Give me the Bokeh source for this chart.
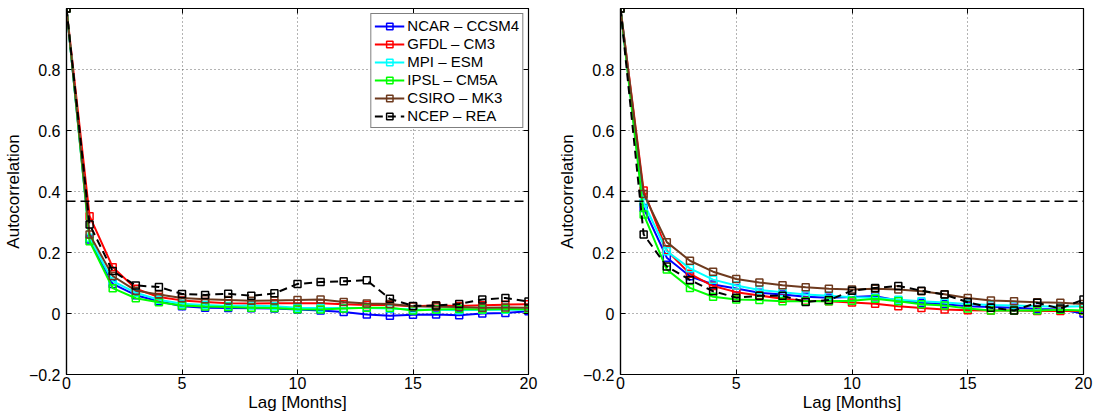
import numpy as np
from bokeh.plotting import figure
from bokeh.layouts import row
from bokeh.models import (Range1d, FixedTicker, LinearAxis, Span, Legend, LegendItem)
from bokeh.embed import file_html
from bokeh.resources import INLINE

lags = list(range(21))
series_names = ["NCAR \u2013 CCSM4", "GFDL \u2013 CM3", "MPI \u2013 ESM",
                "IPSL \u2013 CM5A", "CSIRO \u2013 MK3", "NCEP \u2013 REA"]

left_ncar = [1.0, 0.243, 0.097, 0.060, 0.040, 0.024, 0.019, 0.018, 0.017, 0.016, 0.013,
             0.010, 0.005, -0.003, -0.007, -0.004, -0.003, -0.006, 0.000, 0.002, 0.007]
left_gfdl = [1.0, 0.319, 0.152, 0.081, 0.054, 0.043, 0.038, 0.034, 0.033, 0.034, 0.034,
             0.034, 0.030, 0.028, 0.028, 0.024, 0.026, 0.025, 0.027, 0.029, 0.030]
left_mpi = [1.0, 0.248, 0.106, 0.068, 0.045, 0.032, 0.028, 0.025, 0.026, 0.024, 0.019,
            0.018, 0.018, 0.018, 0.016, 0.013, 0.012, 0.011, 0.012, 0.012, 0.012]
left_ipsl = [1.0, 0.237, 0.083, 0.050, 0.037, 0.026, 0.023, 0.021, 0.019, 0.018, 0.014,
             0.013, 0.016, 0.019, 0.019, 0.010, 0.013, 0.015, 0.013, 0.015, 0.013]
left_csiro = [1.0, 0.259, 0.123, 0.075, 0.062, 0.051, 0.047, 0.044, 0.042, 0.043, 0.044,
              0.046, 0.038, 0.033, 0.031, 0.024, 0.022, 0.021, 0.019, 0.020, 0.019]
left_ncep = [1.0, 0.292, 0.139, 0.092, 0.087, 0.064, 0.061, 0.065, 0.058, 0.066, 0.097,
             0.103, 0.106, 0.109, 0.048, 0.025, 0.026, 0.031, 0.046, 0.051, 0.039]

right_ncar = [1.0, 0.346, 0.183, 0.122, 0.095, 0.082, 0.068, 0.062, 0.055, 0.052, 0.054,
              0.057, 0.043, 0.035, 0.030, 0.024, 0.021, 0.019, 0.015, 0.013, 0.000]
right_gfdl = [1.0, 0.403, 0.207, 0.130, 0.090, 0.070, 0.059, 0.048, 0.042, 0.040, 0.036,
              0.032, 0.024, 0.018, 0.013, 0.011, 0.010, 0.010, 0.008, 0.008, 0.008]
right_mpi = [1.0, 0.363, 0.204, 0.148, 0.111, 0.092, 0.077, 0.070, 0.062, 0.058, 0.053,
             0.052, 0.045, 0.040, 0.036, 0.031, 0.028, 0.026, 0.024, 0.022, 0.024]
right_ipsl = [1.0, 0.325, 0.144, 0.084, 0.055, 0.046, 0.044, 0.040, 0.040, 0.040, 0.042,
              0.048, 0.040, 0.030, 0.026, 0.016, 0.010, 0.010, 0.010, 0.012, 0.010]
right_csiro = [1.0, 0.392, 0.234, 0.173, 0.137, 0.113, 0.102, 0.093, 0.086, 0.081, 0.079,
               0.081, 0.079, 0.073, 0.063, 0.051, 0.043, 0.040, 0.037, 0.035, 0.031]
right_ncep = [1.0, 0.259, 0.154, 0.110, 0.073, 0.052, 0.058, 0.058, 0.038, 0.044, 0.075,
              0.084, 0.090, 0.075, 0.062, 0.037, 0.019, 0.010, 0.035, 0.016, 0.046]

efold_level = 0.368
x_ticks = [0, 5, 10, 15, 20]
y_ticks = [-0.2, 0, 0.2, 0.4, 0.6, 0.8]
y_tick_labels = ["\u22120.2", "0", "0.2", "0.4", "0.6", "0.8"]

colors = ["#0000FF", "#FF0000", "#00FFFF", "#00FF00", "#6E3A1E", "#000000"]
dashes = ["solid", "solid", "solid", "solid", "solid", "8 5"]
FONT = "Liberation Sans"


def make_panel(data, width, left_border, right_border, with_legend):
    p = figure(width=width, height=420, output_backend="svg", toolbar_location=None,
               title=None, x_range=Range1d(0, 20), y_range=Range1d(-0.2, 1.0),
               min_border_left=left_border, min_border_right=right_border,
               min_border_top=8, min_border_bottom=46)
    p.background_fill_color = "white"
    p.border_fill_color = "white"
    p.outline_line_color = "black"
    p.outline_line_width = 1.2

    p.xaxis.ticker = FixedTicker(ticks=x_ticks)
    p.yaxis.ticker = FixedTicker(ticks=y_ticks)
    p.yaxis.major_label_overrides = {t: l for t, l in zip(y_ticks, y_tick_labels)}
    for ax in (p.xaxis[0], p.yaxis[0]):
        ax.major_tick_in = 5
        ax.major_tick_out = 0
        ax.minor_tick_in = 0
        ax.minor_tick_out = 0
        ax.axis_line_color = "black"
        ax.axis_line_width = 1.2
        ax.major_tick_line_color = "black"
        ax.major_label_text_font = FONT
        ax.major_label_text_font_size = "16px"
        ax.major_label_text_color = "black"
        ax.axis_label_text_font = FONT
        ax.axis_label_text_font_size = "17px"
        ax.axis_label_text_font_style = "normal"
        ax.axis_label_text_color = "black"
    p.xaxis.axis_label = "Lag [Months]"
    p.yaxis.axis_label = "Autocorrelation"
    p.xaxis.major_label_standoff = 2
    p.xaxis.axis_label_standoff = 1
    p.yaxis.major_label_standoff = 6
    p.yaxis.axis_label_standoff = 3

    for loc, tk in (("right", y_ticks), ("above", x_ticks)):
        ax = LinearAxis(ticker=FixedTicker(ticks=tk))
        ax.major_tick_in = 5
        ax.major_tick_out = 0
        ax.minor_tick_in = 0
        ax.minor_tick_out = 0
        ax.major_label_text_font_size = "1px"
        ax.major_label_text_color = None
        ax.major_label_standoff = 0
        ax.axis_line_color = "black"
        ax.major_tick_line_color = "black"
        p.add_layout(ax, loc)

    p.xgrid.ticker = FixedTicker(ticks=x_ticks)
    p.ygrid.ticker = FixedTicker(ticks=y_ticks)
    for g in (p.xgrid[0], p.ygrid[0]):
        g.grid_line_color = "#444444"
        g.grid_line_dash = "1 3"
        g.grid_line_alpha = 0.8
        g.grid_line_width = 1

    p.add_layout(Span(location=efold_level, dimension="width", line_color="black",
                      line_dash="9 5", line_width=1.3))

    items = []
    for vals, name, c, d in zip(data, series_names, colors, dashes):
        lr = p.line(lags, vals, line_color=c, line_width=2, line_dash=d)
        sr = p.scatter(lags, vals, marker="square", size=7, line_color=c,
                       line_width=1.5, fill_color=None)
        items.append(LegendItem(label=name, renderers=[lr, sr]))

    if with_legend:
        leg = Legend(items=items, location="top_right")
        leg.label_text_font = FONT
        leg.label_text_font_size = "15px"
        leg.label_text_color = "black"
        leg.border_line_color = "black"
        leg.border_line_width = 1.2
        leg.background_fill_alpha = 1
        leg.glyph_width = 30
        leg.glyph_height = 16
        leg.label_height = 16
        leg.spacing = 1
        leg.padding = 3
        leg.margin = 5
        leg.label_standoff = 3
        p.add_layout(leg)
    return p


left = make_panel([left_ncar, left_gfdl, left_mpi, left_ipsl, left_csiro, left_ncep],
                  548, 64, 20, True)
right = make_panel([right_ncar, right_gfdl, right_mpi, right_ipsl, right_csiro, right_ncep],
                   549, 72, 14, False)

layout = row(left, right)
open("out.html", "w").write(file_html(layout, INLINE))
